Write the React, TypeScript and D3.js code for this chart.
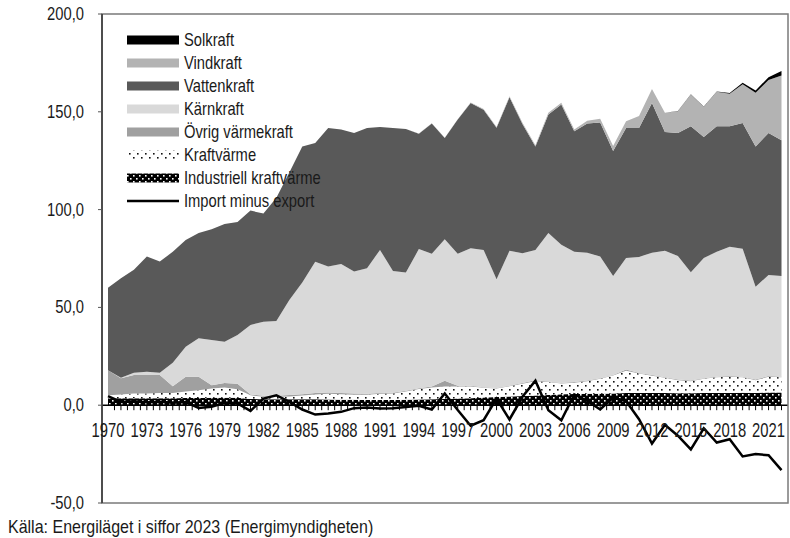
import * as d3 from "d3";
import React from "react";

// år 1970–2022
const years = [
  1970, 1971, 1972, 1973, 1974, 1975, 1976, 1977, 1978, 1979,
  1980, 1981, 1982, 1983, 1984, 1985, 1986, 1987, 1988, 1989,
  1990, 1991, 1992, 1993, 1994, 1995, 1996, 1997, 1998, 1999,
  2000, 2001, 2002, 2003, 2004, 2005, 2006, 2007, 2008, 2009,
  2010, 2011, 2012, 2013, 2014, 2015, 2016, 2017, 2018, 2019,
  2020, 2021, 2022,
];

// TWh per kraftslag
const industriell = [
  3.5, 3.5, 3.5, 3.6, 3.6, 3.6, 3.7, 3.7, 3.8, 3.8,
  3.8, 3.2, 3.0, 3.0, 3.0, 3.0, 3.0, 2.9, 2.8, 2.8,
  2.7, 2.7, 2.7, 2.8, 2.9, 3.0, 3.2, 3.4, 3.6, 3.9,
  4.2, 4.5, 4.7, 4.9, 5.2, 5.6, 5.7, 5.8, 5.9, 6.0,
  6.3, 6.2, 6.3, 6.2, 6.1, 6.1, 6.2, 6.3, 6.3, 6.4,
  6.3, 6.5, 6.5,
];
const kraftvarme = [
  1.6, 2.0, 2.5, 2.4, 2.6, 2.7, 3.3, 4.0, 4.7, 5.3,
  4.4, 1.9, 1.3, 1.3, 1.5, 2.0, 2.5, 2.9, 2.8, 2.6,
  2.6, 3.1, 3.3, 4.2, 5.4, 6.0, 6.4, 6.2, 5.9, 5.0,
  4.3, 5.2, 6.3, 7.4, 6.6, 5.5, 5.8, 6.5, 7.6, 9.2,
  11.3, 10.0, 8.8, 7.8, 6.7, 6.2, 7.3, 8.0, 8.3, 7.9,
  6.5, 8.1, 7.8,
];
const ovrig = [
  12.8, 8.3, 9.4, 9.4, 9.2, 3.4, 7.5, 6.8, 1.7, 2.3,
  2.8, 0.4, 0.5, 0.5, 0.7, 0.6, 0.7, 0.7, 0.7, 0.6,
  0.5, 0.5, 0.4, 0.4, 0.4, 0.5, 2.9, 0.4, 0.4, 0.3,
  0.3, 0.3, 0.3, 0.4, 0.3, 0.3, 0.3, 0.3, 0.3, 0.3,
  0.6, 0.3, 0.3, 0.3, 0.3, 0.3, 0.3, 0.3, 0.3, 0.3,
  0.3, 0.3, 0.3,
];
const karnkraft = [
  0, 0.2, 1.2, 1.7, 1.2, 12.0, 15.4, 19.7, 23.1, 21.0,
  24.9, 35.5, 37.9, 38.2, 48.6, 57.1, 67.2, 64.4, 65.9, 62.3,
  64.2, 73.1, 62.2, 60.4, 71.1, 67.9, 72.4, 67.4, 70.4, 70.2,
  55.6, 68.9, 66.4, 66.7, 75.9, 70.6, 66.6, 65.4, 62.2, 50.5,
  57.1, 59.3, 62.6, 64.7, 63.2, 55.4, 61.5, 63.8, 66.1, 65.4,
  47.4, 51.7, 51.4,
];
const vattenkraft = [
  42.1, 50.9, 52.6, 58.9, 56.9, 56.7, 54.6, 53.8, 56.7, 60.3,
  57.8, 58.5, 55.3, 63.0, 65.2, 69.6, 60.6, 70.8, 68.7, 70.9,
  71.7, 62.8, 73.1, 73.4, 59.0, 66.6, 51.7, 68.6, 74.2, 71.6,
  77.4, 78.5, 66.1, 52.9, 60.6, 71.7, 61.6, 66.0, 68.5, 64.0,
  66.4, 65.9, 76.5, 60.7, 62.8, 74.6, 61.8, 64.2, 61.6, 64.3,
  71.8, 72.5, 69.4,
];
const vindkraft = [
  0, 0, 0, 0, 0, 0, 0, 0, 0, 0,
  0, 0, 0, 0, 0, 0, 0, 0, 0, 0,
  0, 0, 0.05, 0.05, 0.1, 0.1, 0.1, 0.2, 0.3, 0.4,
  0.45, 0.5, 0.6, 0.6, 0.9, 0.9, 1.0, 1.4, 2.0, 2.5,
  3.5, 6.1, 7.2, 9.8, 11.2, 16.3, 15.5, 17.6, 16.6, 19.8,
  27.5, 27.1, 33.1,
];
const solkraft = [
  0, 0, 0, 0, 0, 0, 0, 0, 0, 0,
  0, 0, 0, 0, 0, 0, 0, 0, 0, 0,
  0, 0, 0, 0, 0, 0, 0, 0, 0, 0,
  0, 0, 0, 0, 0, 0, 0, 0, 0, 0,
  0, 0, 0, 0, 0.05, 0.1, 0.1, 0.2, 0.4, 0.7,
  1.1, 1.5, 2.3,
];
const importMinusExport = [
  4.6, 1.7, 2.0, 1.5, 1.8, 1.2, 1.6, -1.4, -0.8, 1.2,
  0.9, -2.9, 3.4, 5.1, 1.7, -2.2, -4.8, -4.3, -3.4, -1.5,
  -1.2, -1.7, -1.5, -0.9, -0.3, -2.2, 6.0, -2.5, -10.5, -7.7,
  3.4, -7.3, 4.3, 12.5, -2.6, -7.7, 5.5, 2.2, -2.2, 3.9,
  2.1, -7.2, -19.6, -10.0, -15.6, -22.6, -11.8, -19.1, -17.4, -26.2,
  -25.0, -25.6, -33.2,
];

const yTicks = [200, 150, 100, 50, 0, -50];
const yTickLabels = ["200,0", "150,0", "100,0", "50,0", "0,0", "-50,0"];
const xLabelYears = [
  1970, 1973, 1976, 1979, 1982, 1985, 1988, 1991, 1994, 1997,
  2000, 2003, 2006, 2009, 2012, 2015, 2018, 2021,
];

// no narrow font installed, so squeeze Liberation Sans horizontally
const FONT = '"Liberation Sans", Arial, sans-serif';

function NarrowText({ x, y, anchor = "start", size = 18, squeeze = 0.82, children }: any) {
  return (
    <g transform={`translate(${x},${y}) scale(${squeeze},1)`}>
      <text x={0} y={0} textAnchor={anchor} fontFamily={FONT} fontSize={size} fill="#1a1a1a">
        {children}
      </text>
    </g>
  );
}

const seriesKeys = ["industriell", "kraftvarme", "ovrig", "karnkraft", "vattenkraft", "vindkraft", "solkraft"];
const fills: Record<string, string> = {
  industriell: "url(#blackdots)",
  kraftvarme: "url(#whitedots)",
  ovrig: "#a0a0a0",
  karnkraft: "#d9d9d9",
  vattenkraft: "#595959",
  vindkraft: "#b3b3b3",
  solkraft: "#000000",
};

const legend = [
  { label: "Solkraft", fill: "#000000" },
  { label: "Vindkraft", fill: "#b3b3b3" },
  { label: "Vattenkraft", fill: "#595959" },
  { label: "Kärnkraft", fill: "#d9d9d9" },
  { label: "Övrig värmekraft", fill: "#a0a0a0" },
  { label: "Kraftvärme", fill: "url(#whitedots)" },
  { label: "Industriell kraftvärme", fill: "url(#blackdots)" },
  { label: "Import minus export", fill: "line" },
];

export default function App() {
  const width = 790;
  const height = 538;
  const frame = { left: 102, right: 788, top: 14, bottom: 503 };

  const x = d3.scaleLinear().domain([1970, 2022]).range([108, 781.5]);
  const y = d3.scaleLinear().domain([-50, 200]).range([frame.bottom, frame.top]);

  const rows = years.map((yr, i) => ({
    year: yr,
    industriell: industriell[i],
    kraftvarme: kraftvarme[i],
    ovrig: ovrig[i],
    karnkraft: karnkraft[i],
    vattenkraft: vattenkraft[i],
    vindkraft: vindkraft[i],
    solkraft: solkraft[i],
  }));

  const stacked = d3.stack<any>().keys(seriesKeys)(rows);

  const area = d3
    .area<any>()
    .x((d) => x(d.data.year))
    .y0((d) => y(d[0]))
    .y1((d) => y(d[1]));

  const line = d3
    .line<number>()
    .x((d, i) => x(years[i]))
    .y((d) => y(d));

  // tick marks every half year along the zero line
  const halfTicks = d3.range(1970.5, 2022.01, 0.5);

  return (
    <svg width={width} height={height} style={{ position: "absolute", left: 0, top: 0, background: "#fff" }}>
      <defs>
        <pattern id="whitedots" width="8" height="8" patternUnits="userSpaceOnUse">
          <rect width="8" height="8" fill="#ffffff" />
          <rect x="1" y="1" width="1.6" height="1.6" fill="#111" />
          <rect x="5" y="5" width="1.6" height="1.6" fill="#111" />
        </pattern>
        <pattern id="blackdots" width="6" height="6" patternUnits="userSpaceOnUse">
          <rect width="6" height="6" fill="#000000" />
          <rect x="1" y="1" width="1.6" height="1.6" fill="#fff" />
          <rect x="4" y="4" width="1.6" height="1.6" fill="#fff" />
        </pattern>
      </defs>

      {stacked.map((s) => (
        <path key={s.key} d={area(s) || ""} fill={fills[s.key]} />
      ))}

      {/* zero line + ticks */}
      <line x1={frame.left} x2={frame.right} y1={y(0)} y2={y(0)} stroke="#000" strokeWidth={1.5} />
      {halfTicks.map((t) => (
        <line key={t} x1={x(t)} x2={x(t)} y1={y(0)} y2={y(0) + 5} stroke="#000" strokeWidth={1} />
      ))}

      <path d={line(importMinusExport) || ""} fill="none" stroke="#000" strokeWidth={2.5} strokeLinejoin="miter" />

      {/* frame */}
      <rect
        x={frame.left}
        y={frame.top}
        width={frame.right - frame.left}
        height={frame.bottom - frame.top}
        fill="none"
        stroke="#7a7a7a"
        strokeWidth={1.5}
      />
      <line x1={frame.left} x2={frame.left} y1={frame.top} y2={frame.bottom} stroke="#333" strokeWidth={1.5} />

      {/* y axis */}
      {yTicks.map((t, i) => (
        <g key={t}>
          <line x1={frame.left - 4} x2={frame.left} y1={y(t)} y2={y(t)} stroke="#555" strokeWidth={1} />
          <NarrowText x={84} y={y(t) + 6} anchor="end">
            {yTickLabels[i]}
          </NarrowText>
        </g>
      ))}

      {/* x labels */}
      {xLabelYears.map((yr) => (
        <NarrowText key={yr} x={x(yr)} y={437} anchor="middle" size={19.5} squeeze={0.76}>
          {yr}
        </NarrowText>
      ))}

      {/* legend */}
      {legend.map((item, i) => {
        const cy = 40 + i * 23;
        return (
          <g key={item.label}>
            {item.fill === "line" ? (
              <line x1={127} x2={179} y1={cy} y2={cy} stroke="#000" strokeWidth={2.5} />
            ) : (
              <rect x={127} y={cy - 4.5} width={52} height={9} fill={item.fill} />
            )}
            <NarrowText x={184} y={cy + 6}>
              {item.label}
            </NarrowText>
          </g>
        );
      })}

      <NarrowText x={8} y={533} size={18} squeeze={0.89}>
        Källa: Energiläget i siffor 2023 (Energimyndigheten)
      </NarrowText>
    </svg>
  );
}
